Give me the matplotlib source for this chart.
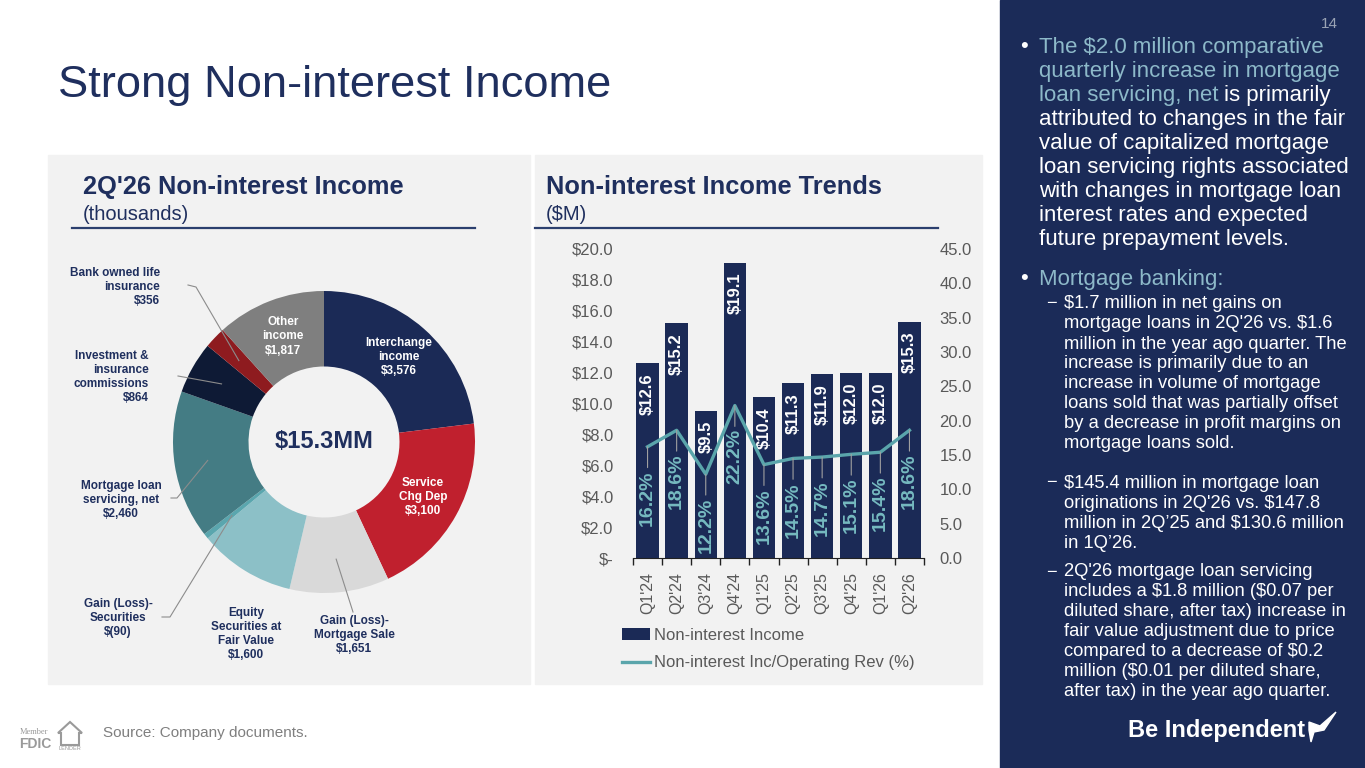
import numpy as np
import matplotlib.pyplot as plt
from matplotlib.patches import Rectangle, Polygon
from matplotlib.lines import Line2D
from matplotlib.ticker import FuncFormatter

plt.rcParams['font.family'] = ['Liberation Sans', 'DejaVu Sans']
plt.rcParams['text.parse_math'] = False

W, H = 1365, 768

# donut: 2Q'26 non-interest income (thousands)
sources = ["Interchange\nincome", "Service\nChg Dep", "Gain (Loss)-\nMortgage Sale",
           "Equity\nSecurities at\nFair Value", "Gain (Loss)-\nSecurities",
           "Mortgage loan\nservicing, net", "Investment &\ninsurance\ncommissions",
           "Bank owned life\ninsurance", "Other\nincome"]
amounts = [3576, 3100, 1651, 1600, -90, 2460, 864, 356, 1817]
total_label = "$15.3MM"

# trends ($M and % of operating revenue)
quarters = ["Q1'24", "Q2'24", "Q3'24", "Q4'24", "Q1'25", "Q2'25", "Q3'25", "Q4'25", "Q1'26", "Q2'26"]
income = [12.6, 15.2, 9.5, 19.1, 10.4, 11.3, 11.9, 12.0, 12.0, 15.3]
pct_rev = [16.2, 18.6, 12.2, 22.2, 13.6, 14.5, 14.7, 15.1, 15.4, 18.6]

NAVY = '#1b2a56'
TITLE = '#1f2f5e'
PANEL = '#f2f2f2'
TEAL = '#5aa5ab'
LIGHT = '#8db9c9'
GRAY_TXT = '#595959'
slice_colors = ['#1b2a56', '#c0202e', '#d9d9d9', '#8cc0c7', '#5aa6ae',
                '#447c84', '#0e1a35', '#8e1b1f', '#7f7f7f']


def box(x0, y0, x1, y1):
    return [x0 / W, 1 - y1 / H, (x1 - x0) / W, (y1 - y0) / H]


def money(v):
    return f"${v:,}" if v >= 0 else f"$({-v:,})"


fig = plt.figure(figsize=(W / 100, H / 100), dpi=100)
fig.patch.set_facecolor('white')

# background panels
for x0, y0, x1, y1, c in [(48, 155, 530, 684, PANEL), (535, 155, 982, 684, PANEL),
                          (1000, 0, 1365, 768, '#1b2b58')]:
    fig.patches.append(Rectangle((x0 / W, 1 - y1 / H), (x1 - x0) / W, (y1 - y0) / H,
                                 transform=fig.transFigure, color=c, zorder=-5))

fig.text(58 / W, 1 - 86 / H, "Strong Non-interest Income", fontsize=32.6, color=TITLE,
         va='center', ha='left')

# panel headers
for x, t1, t2, (lx0, lx1) in [(83, "2Q'26 Non-interest Income", "(thousands)", (72, 475)),
                               (546, "Non-interest Income Trends", "($M)", (535, 938))]:
    fig.text(x / W, 1 - 187 / H, t1, fontsize=18.3, fontweight='bold', color=TITLE, va='center')
    fig.text(x / W, 1 - 214 / H, t2, fontsize=14.5, color=TITLE, va='center')
    fig.add_artist(Line2D([lx0 / W, lx1 / W], [1 - 228 / H, 1 - 228 / H], color='#2b3f6e', lw=1.6))

# ---- donut ----
cx, cy, R = 324, 442, 151
ax_d = fig.add_axes(box(48, 240, 530, 690))
wedges, _ = ax_d.pie(np.abs(amounts), colors=slice_colors, startangle=90, counterclock=False,
                     radius=1, wedgeprops=dict(width=0.5, linewidth=0))
ax_d.set_xlim((48 - cx) / R, (530 - cx) / R)
ax_d.set_ylim((cy - 690) / R, (cy - 240) / R)
ax_d.set_aspect('auto')
ax_d.axis('off')


def d(px, py):
    return ((px - cx) / R, (cy - py) / R)


def mid_pt(w, r=0.75):
    a = np.deg2rad((w.theta1 + w.theta2) / 2)
    return r * np.cos(a), r * np.sin(a)


ax_d.text(0, 0, total_label, ha='center', va='center', fontsize=17, fontweight='bold', color=TITLE)

for i in (0, 1, 8):
    mx, my = mid_pt(wedges[i])
    ax_d.text(mx, my, f"{sources[i]}\n{money(amounts[i])}", ha='center', va='center',
              fontsize=8.5, fontweight='bold', color='white', linespacing=1.25)

# outside labels: index -> (text pos, ha, leader path)
outside = {
    2: ((354, 635), 'center', [(353, 612)]),
    3: ((246, 634), 'center', []),
    4: ((118, 618), 'center', [(170, 617), (162, 617)]),
    5: ((121, 500), 'center', [(177, 498), (171, 498)]),
    6: ((149, 377), 'right', [(178, 376)]),
    7: ((160, 287), 'right', [(196, 287), (188, 285)]),
}
for i, (pos, ha, path) in outside.items():
    tx, ty = d(*pos)
    ax_d.text(tx, ty, f"{sources[i]}\n{money(amounts[i])}", ha=ha, va='center',
              multialignment=ha, fontsize=8.5, fontweight='bold', color=TITLE, linespacing=1.25)
    if path:
        pts = [mid_pt(wedges[i], 0.78)] + [d(*p) for p in path]
        ax_d.plot([p[0] for p in pts], [p[1] for p in pts], color='#8c8c8c', lw=0.8)

# ---- trends ----
ax = fig.add_axes(box(633, 249, 924, 558))
ax.set_facecolor('none')
x = np.arange(len(quarters))
ax.bar(x, income, width=0.77, color=NAVY, label='Non-interest Income')
ax.set_xlim(-0.5, len(quarters) - 0.5)
ax.set_ylim(0, 20)
ax.set_yticks(np.arange(0, 21, 2))
ax.yaxis.set_major_formatter(FuncFormatter(lambda v, p: "$-" if v == 0 else f"${v:.1f}"))
ax.set_xticks(x)
ax.set_xticklabels(quarters, rotation=90)
ax.set_xticks(np.arange(-0.5, len(quarters), 1), minor=True)
ax.tick_params(axis='x', which='major', length=0, pad=10, labelsize=11.5, labelcolor=GRAY_TXT)
ax.tick_params(axis='x', which='minor', length=5, width=1, color='#222222')
ax.tick_params(axis='y', length=0, pad=14, labelsize=12, labelcolor=GRAY_TXT)
for s in ('top', 'left', 'right'):
    ax.spines[s].set_visible(False)
ax.spines['bottom'].set_color('#222222')

for xi, v in zip(x, income):
    ax.annotate(f"${v:.1f}", (xi, v), xytext=(0, -7), textcoords='offset points',
                ha='center', va='top', rotation=90, color='white', fontsize=12, fontweight='bold')

ax2 = ax.twinx()
ax2.set_ylim(0, 45)
ax2.set_yticks(np.arange(0, 46, 5))
ax2.yaxis.set_major_formatter(FuncFormatter(lambda v, p: f"{v:.1f}"))
ax2.tick_params(axis='y', length=0, pad=11, labelsize=12, labelcolor=GRAY_TXT)
for s in ax2.spines.values():
    s.set_visible(False)
ax2.plot(x, pct_rev, color=TEAL, lw=2.4, label='Non-interest Inc/Operating Rev (%)')
for xi, p in zip(x, pct_rev):
    ax2.annotate(f"{p:.1f}%", (xi, p), xytext=(0, -17), textcoords='offset points',
                 ha='center', va='top', rotation=90, color='#76bac0', fontsize=14,
                 fontweight='bold',
                 arrowprops=dict(arrowstyle='-', color='#a0a0a0', lw=0.8, shrinkA=0, shrinkB=0))

h1, l1 = ax.get_legend_handles_labels()
h2, l2 = ax2.get_legend_handles_labels()
fig.legend(h1 + h2, l1 + l2, loc='upper left', bbox_to_anchor=(622 / W, 1 - 628 / H),
           frameon=False, fontsize=12, labelcolor=GRAY_TXT, handlelength=1.7,
           handletextpad=0.25, labelspacing=0.75, borderpad=0, borderaxespad=0)

# ---- right-hand commentary ----
fig.text(1338 / W, 1 - 24 / H, "14", fontsize=11, color='#9aa3b5', ha='right', va='center')

renderer = fig.canvas.get_renderer()
main_fs, sub_fs = 16, 13.2
fig.text(1020 / W, 1 - 47 / H, "•", fontsize=main_fs, color='white', va='center')
b1_colored = ["The $2.0 million comparative", "quarterly increase in mortgage"]
for k, line in enumerate(b1_colored):
    fig.text(1039 / W, 1 - (47 + 24 * k) / H, line, fontsize=main_fs, color=LIGHT, va='center')
t = fig.text(1039 / W, 1 - 95 / H, "loan servicing, net", fontsize=main_fs, color=LIGHT, va='center')
x_end = t.get_window_extent(renderer).x1
fig.text((x_end + 6) / W, 1 - 95 / H, "is primarily", fontsize=main_fs, color='white', va='center')
b1_white = ["attributed to changes in the fair", "value of capitalized mortgage",
            "loan servicing rights associated", "with changes in mortgage loan",
            "interest rates and expected", "future prepayment levels."]
for k, line in enumerate(b1_white):
    fig.text(1039 / W, 1 - (119 + 24 * k) / H, line, fontsize=main_fs, color='white', va='center')

fig.text(1020 / W, 1 - 279 / H, "•", fontsize=main_fs, color='white', va='center')
fig.text(1039 / W, 1 - 279 / H, "Mortgage banking:", fontsize=main_fs, color=LIGHT, va='center')

subs = [
    (304, ["$1.7 million in net gains on", "mortgage loans in 2Q'26 vs. $1.6",
           "million in the year ago quarter. The", "increase is primarily due to an",
           "increase in volume of mortgage", "loans sold that was partially offset",
           "by a decrease in profit margins on", "mortgage loans sold."]),
    (483, ["$145.4 million in mortgage loan", "originations in 2Q'26 vs. $147.8",
           "million in 2Q\u201925 and $130.6 million", "in 1Q\u201926."]),
    (572, ["2Q'26 mortgage loan servicing", "includes a $1.8 million ($0.07 per",
           "diluted share, after tax) increase in", "fair value adjustment due to price",
           "compared to a decrease of $0.2", "million ($0.01 per diluted share,",
           "after tax) in the year ago quarter."]),
]
for y0, lines in subs:
    fig.text(1046 / W, 1 - y0 / H, "\u2212", fontsize=sub_fs, color='white', va='center')
    for k, line in enumerate(lines):
        fig.text(1064 / W, 1 - (y0 + 20 * k) / H, line, fontsize=sub_fs, color='white', va='center')

# logo
fig.text(1128 / W, 1 - 731 / H, "Be Independent", fontsize=17, fontweight='bold',
         color='white', va='center')
bird = [(1309, 722), (1320, 726), (1336, 712), (1324, 730), (1314, 732), (1311, 742),
        (1309, 730)]
fig.patches.append(Polygon([(px / W, 1 - py / H) for px, py in bird], closed=True,
                           transform=fig.transFigure, color='white', zorder=3))

# footer
fig.text(20 / W, 1 - 732 / H, "Member", fontsize=6, family='Liberation Serif', color='#9a9a9a', va='center')
fig.text(19 / W, 1 - 744 / H, "FDIC", fontsize=10, fontweight='bold', color='#9a9a9a', va='center')
house = [(58, 733), (70, 722), (82, 733), (79, 733), (79, 745), (61, 745), (61, 733)]
fig.patches.append(Polygon([(px / W, 1 - py / H) for px, py in house], closed=True,
                           transform=fig.transFigure, fill=False, edgecolor='#9a9a9a', lw=1.5))
fig.text(70 / W, 1 - 749 / H, "LENDER", fontsize=4, color='#9a9a9a', ha='center', va='center')
fig.text(103 / W, 1 - 733 / H, "Source: Company documents.", fontsize=11, color='#7f7f7f', va='center')

fig.savefig("out.png", dpi=100, facecolor='white')
